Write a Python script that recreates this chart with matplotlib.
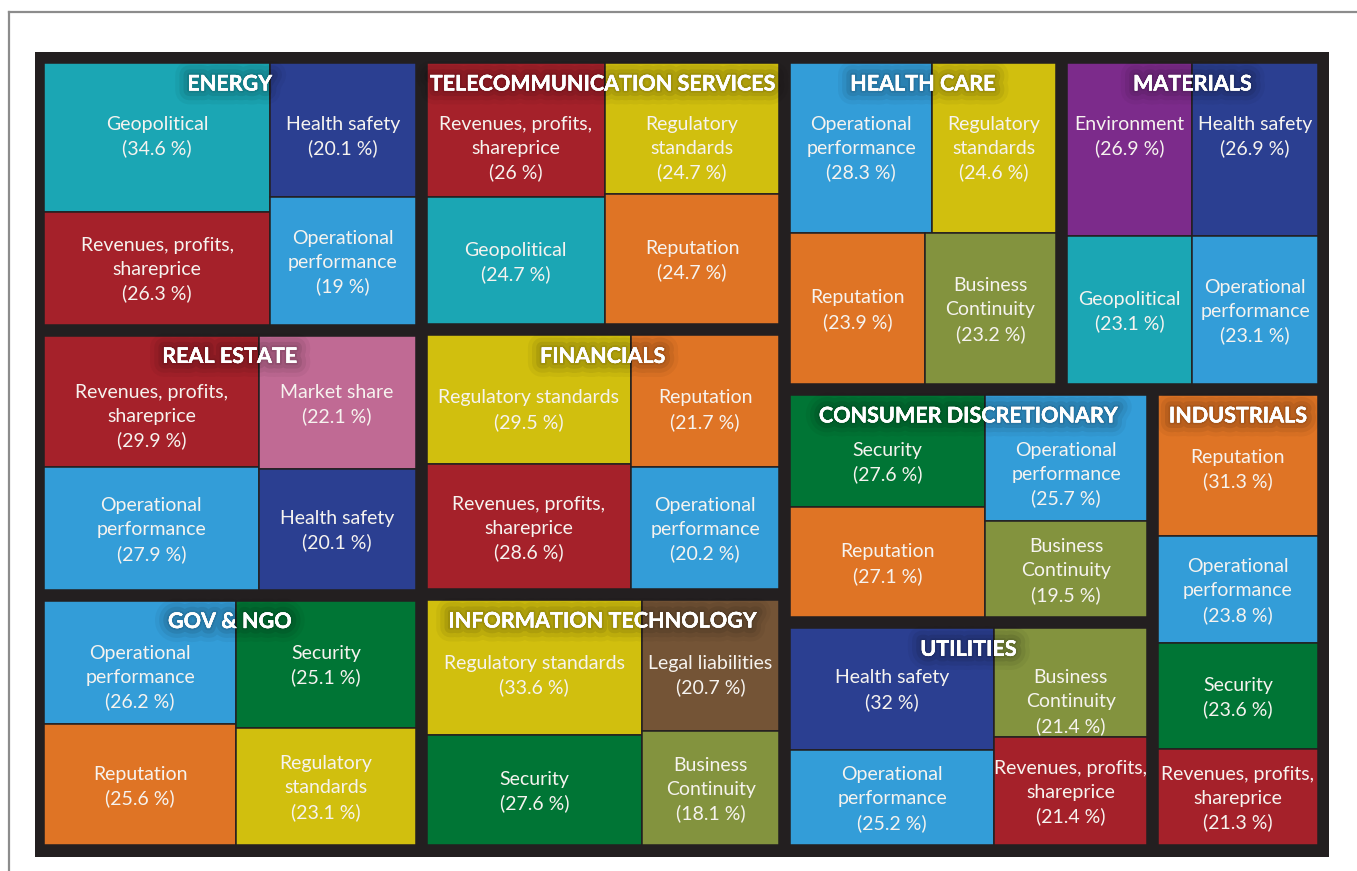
import matplotlib
matplotlib.use("Agg")
import matplotlib.pyplot as plt
import matplotlib.patheffects as pe
from matplotlib.patches import Rectangle
from matplotlib.lines import Line2D

# sectors in layout order, with their relative weight in the map
SECTORS = ["ENERGY", "REAL ESTATE", "GOV & NGO", "TELECOMMUNICATION SERVICES",
           "FINANCIALS", "INFORMATION TECHNOLOGY", "HEALTH CARE", "MATERIALS",
           "CONSUMER DISCRETIONARY", "UTILITIES", "INDUSTRIALS"]
SECTOR_WEIGHTS = [10.23, 9.95, 9.59, 9.72, 9.44, 9.13, 9.02, 8.54, 8.43, 8.22, 7.74]

# top risks per sector (share of responses, %)
ENERGY_RISKS = ["Geopolitical", "Revenues, profits, shareprice", "Health safety", "Operational performance"]
ENERGY_SHARES = [34.6, 26.3, 20.1, 19]
REAL_ESTATE_RISKS = ["Revenues, profits, shareprice", "Operational performance", "Market share", "Health safety"]
REAL_ESTATE_SHARES = [29.9, 27.9, 22.1, 20.1]
GOV_RISKS = ["Operational performance", "Reputation", "Security", "Regulatory standards"]
GOV_SHARES = [26.2, 25.6, 25.1, 23.1]
TELECOM_RISKS = ["Revenues, profits, shareprice", "Geopolitical", "Regulatory standards", "Reputation"]
TELECOM_SHARES = [26, 24.7, 24.7, 24.7]
FINANCIALS_RISKS = ["Regulatory standards", "Revenues, profits, shareprice", "Reputation", "Operational performance"]
FINANCIALS_SHARES = [29.5, 28.6, 21.7, 20.2]
IT_RISKS = ["Regulatory standards", "Security", "Legal liabilities", "Business Continuity"]
IT_SHARES = [33.6, 27.6, 20.7, 18.1]
HEALTH_RISKS = ["Operational performance", "Regulatory standards", "Reputation", "Business Continuity"]
HEALTH_SHARES = [28.3, 24.6, 23.9, 23.2]
MATERIALS_RISKS = ["Environment", "Health safety", "Geopolitical", "Operational performance"]
MATERIALS_SHARES = [26.9, 26.9, 23.1, 23.1]
CONSUMER_RISKS = ["Security", "Reputation", "Operational performance", "Business Continuity"]
CONSUMER_SHARES = [27.6, 27.1, 25.7, 19.5]
UTILITIES_RISKS = ["Health safety", "Operational performance", "Business Continuity", "Revenues, profits, shareprice"]
UTILITIES_SHARES = [32, 25.2, 21.4, 21.4]
INDUSTRIALS_RISKS = ["Reputation", "Operational performance", "Security", "Revenues, profits, shareprice"]
INDUSTRIALS_SHARES = [31.3, 23.8, 23.6, 21.3]

RISK_COLORS = {
    "Geopolitical": "#1ba6b4",
    "Health safety": "#2b3f91",
    "Revenues, profits, shareprice": "#a5212a",
    "Operational performance": "#339dd8",
    "Regulatory standards": "#d1bf0e",
    "Reputation": "#df7425",
    "Market share": "#c06a94",
    "Security": "#007535",
    "Business Continuity": "#83933e",
    "Environment": "#7c2b8b",
    "Legal liabilities": "#745436",
}
WRAPPED = {
    "Revenues, profits, shareprice": "Revenues, profits,\nshareprice",
    "Operational performance": "Operational\nperformance",
    "Regulatory standards": "Regulatory\nstandards",
    "Business Continuity": "Business\nContinuity",
}
# distance from sector top to the first label line of the top cells (px)
LABEL_DROP = {"ENERGY": 60, "REAL ESTATE": 55, "GOV & NGO": 51,
              "TELECOMMUNICATION SERVICES": 60, "FINANCIALS": 61,
              "INFORMATION TECHNOLOGY": 62, "HEALTH CARE": 60, "MATERIALS": 60,
              "CONSUMER DISCRETIONARY": 54, "UTILITIES": 48, "INDUSTRIALS": 61}

DARK = "#231f20"
FONT = "Lato"
RATIO = 1.25  # target aspect for the squarified tiling
LINE = 24     # label line pitch, px


def squarify(values, x0, y0, w, h, ratio=RATIO):
    # squarified treemap (d3 style, with target ratio); y grows downwards
    x1, y1 = x0 + w, y0 + h
    value = float(sum(values))
    rects = []
    i0 = 0
    n = len(values)
    while i0 < n:
        dx, dy = x1 - x0, y1 - y0
        i1 = i0 + 1
        s = values[i0]
        vmin = vmax = s
        alpha = max(dy / dx, dx / dy) / (value * ratio)
        beta = s * s * alpha
        best = max(vmax / beta, beta / vmin)
        while i1 < n:
            v = values[i1]
            s2 = s + v
            b = s2 * s2 * alpha
            r = max(max(vmax, v) / b, b / min(vmin, v))
            if r > best:
                break
            s, best = s2, r
            vmin, vmax = min(vmin, v), max(vmax, v)
            i1 += 1
        row = values[i0:i1]
        if dx < dy:
            rh = dy * s / value
            xx = x0
            for v in row:
                rw = dx * v / s
                rects.append((xx, y0, rw, rh))
                xx += rw
            y0 += rh
        else:
            cw = dx * s / value
            yy = y0
            for v in row:
                ch = dy * v / s
                rects.append((x0, yy, cw, ch))
                yy += ch
            x0 += cw
        value -= s
        i0 = i1
    return rects


def main():
    W, H = 1357, 871
    fig = plt.figure(figsize=(W / 100, H / 100), dpi=100)
    fig.patch.set_facecolor("white")

    # grey page frame
    fig.add_artist(Line2D([9 / W, 9 / W], [0, 1 - 12 / H], transform=fig.transFigure,
                          color="#8c8c8c", lw=1.6))
    fig.add_artist(Line2D([9 / W, 1], [1 - 12 / H, 1 - 12 / H], transform=fig.transFigure,
                          color="#8c8c8c", lw=1.6))

    bw, bh = 1294, 805
    ax = fig.add_axes([35 / W, 1 - (52 + bh) / H, bw / W, bh / H])
    ax.set_xlim(0, bw)
    ax.set_ylim(bh, 0)
    ax.set_facecolor(DARK)
    ax.set_xticks([])
    ax.set_yticks([])
    for s in ax.spines.values():
        s.set_visible(False)

    renderer = fig.canvas.get_renderer()

    risks = [ENERGY_RISKS, REAL_ESTATE_RISKS, GOV_RISKS, TELECOM_RISKS, FINANCIALS_RISKS,
             IT_RISKS, HEALTH_RISKS, MATERIALS_RISKS, CONSUMER_RISKS, UTILITIES_RISKS,
             INDUSTRIALS_RISKS]
    shares = [ENERGY_SHARES, REAL_ESTATE_SHARES, GOV_SHARES, TELECOM_SHARES, FINANCIALS_SHARES,
              IT_SHARES, HEALTH_SHARES, MATERIALS_SHARES, CONSUMER_SHARES, UTILITIES_SHARES,
              INDUSTRIALS_SHARES]

    gap = 11
    sector_rects = squarify(SECTOR_WEIGHTS, 3.5, 5.5, bw - 9, bh - 12)

    glow = [pe.withStroke(linewidth=20, foreground="black", alpha=0.04),
            pe.withStroke(linewidth=14, foreground="black", alpha=0.06),
            pe.withStroke(linewidth=8, foreground="black", alpha=0.08),
            pe.withStroke(linewidth=3, foreground="black", alpha=0.08),
            pe.Normal()]

    for name, (sx, sy, sw, sh), rk, sv in zip(SECTORS, sector_rects, risks, shares):
        ix, iy, iw, ih = sx + gap / 2, sy + gap / 2, sw - gap, sh - gap
        cells = squarify(sv, ix, iy, iw, ih)
        for r, v, (cx, cy, cw, ch) in zip(rk, sv, cells):
            ax.add_patch(Rectangle((cx, cy), cw, ch, facecolor=RISK_COLORS[r],
                                   edgecolor=DARK, lw=1.1))
            label = r
            t = ax.text(0, 0, label, fontsize=14, family=FONT)
            if r in WRAPPED and t.get_window_extent(renderer).width > cw - 8:
                label = WRAPPED[r]
            t.remove()
            lines = label.split("\n") + [f"({v:g} %)"]
            n = len(lines)
            if abs(cy - iy) < 0.5:
                y_first = cy + LABEL_DROP[name]
            else:
                y_first = cy + ch / 2 - (n - 1) * LINE / 2
            for k, ln in enumerate(lines):
                ax.text(cx + cw / 2, y_first + k * LINE, ln, ha="center",
                        va="center_baseline", fontsize=14, family=FONT, color="#f6f3ef")
        ax.text(ix + iw / 2, iy + 21, name, ha="center", va="center", fontsize=15.5,
                family=FONT, fontweight="bold", color="white", path_effects=glow)

    fig.savefig("out.png", dpi=100, facecolor="white")


if __name__ == "__main__":
    main()
